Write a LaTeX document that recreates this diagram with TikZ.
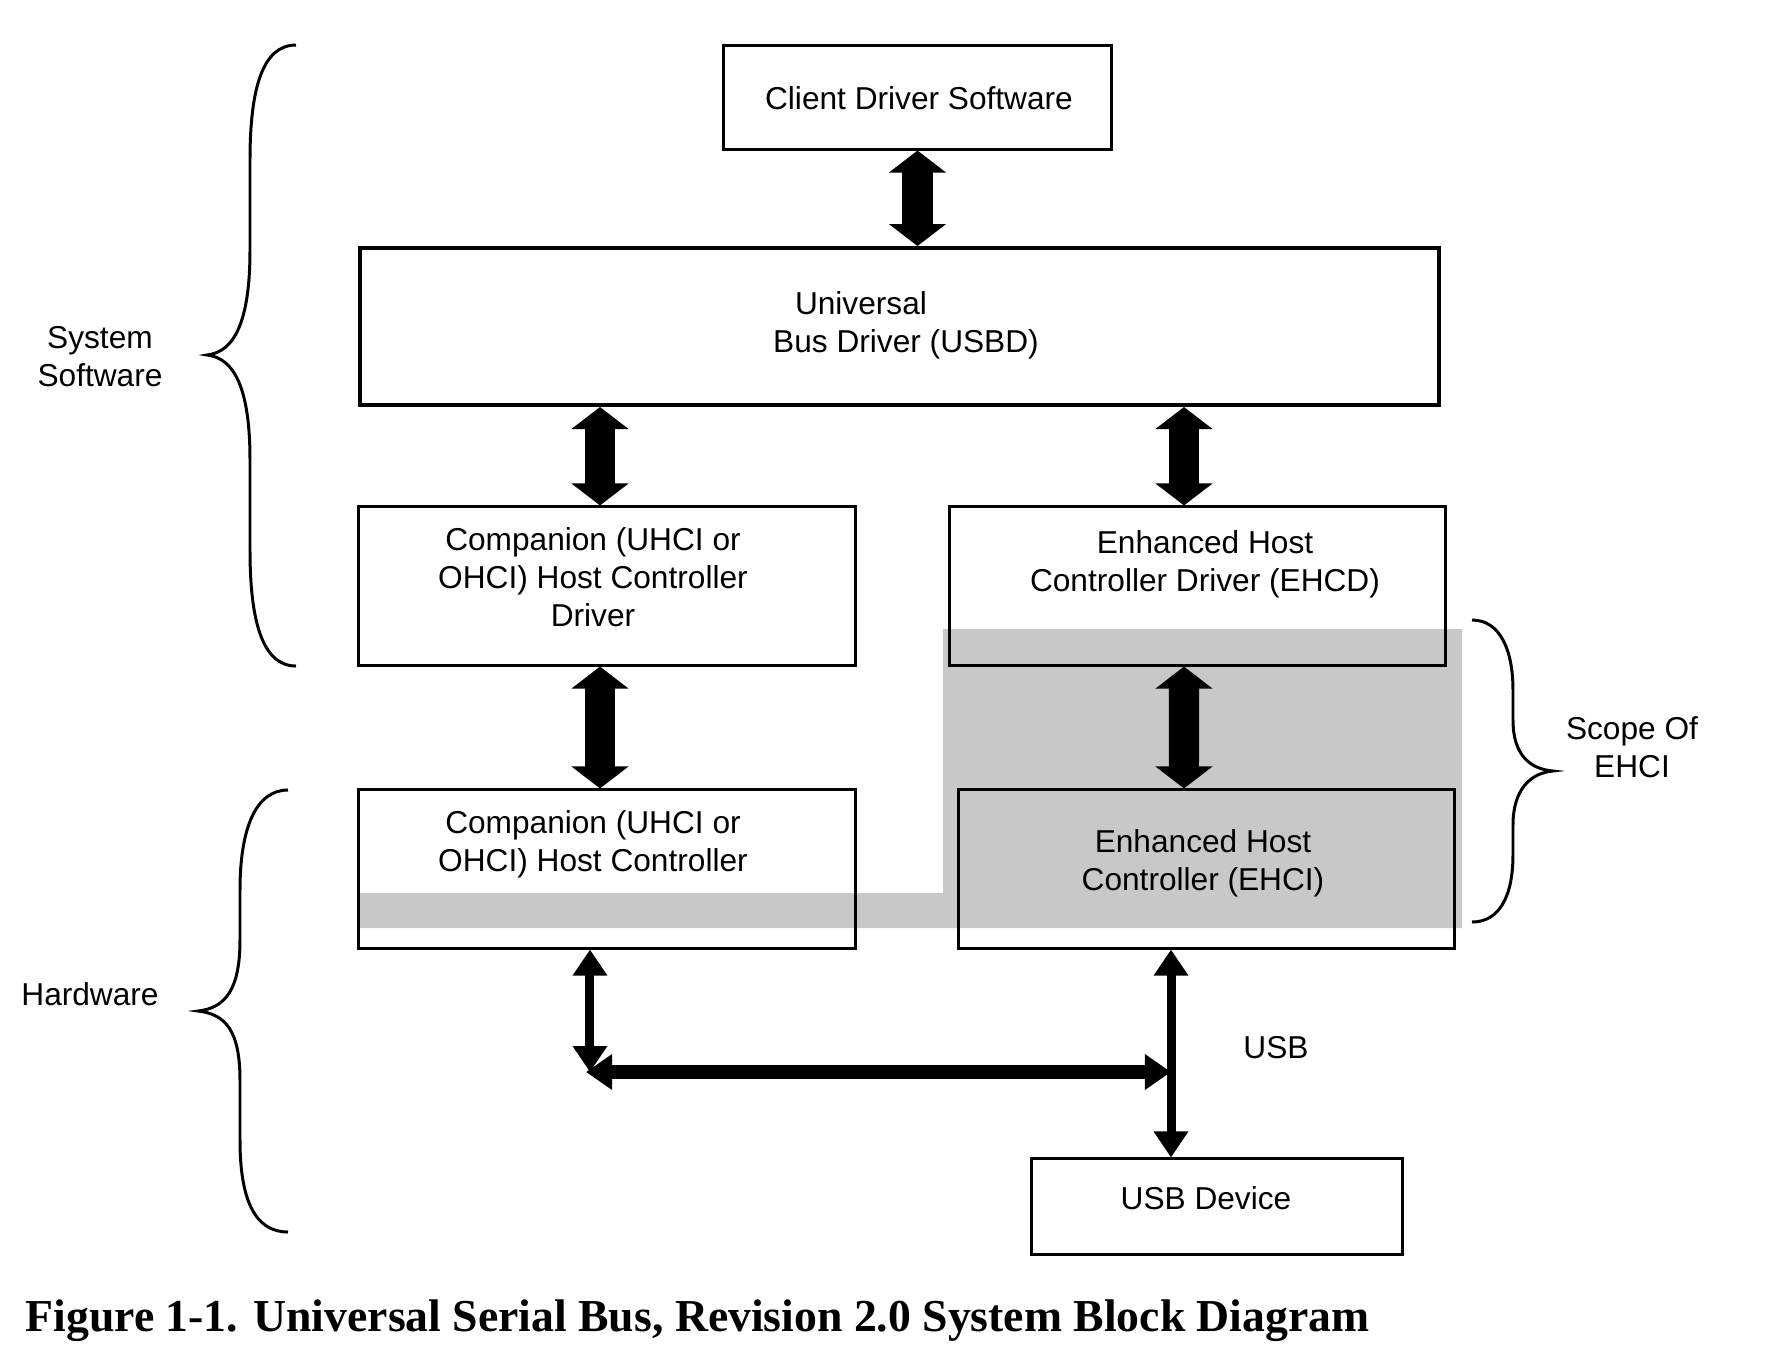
\documentclass[tikz,border=0pt]{standalone}
\usepackage{fontspec}
\setmainfont{Liberation Sans}
\newfontfamily\legende{Liberation Serif}
\usetikzlibrary{arrows.meta}
\definecolor{grisehci}{RGB}{200,200,200}

\begin{document}
\begin{tikzpicture}[x=0.01cm, y=-0.01cm,
    bloc/.style={draw, line width=0.85pt, inner sep=0pt},
    txt/.style={align=center, inner sep=0pt, font=\fontsize{9}{10.8}\selectfont},
    gros/.style={line width=0.3cm, {Triangle[width=0.56cm, length=0.22cm]}-{Triangle[width=0.56cm, length=0.22cm]}},
    fin/.style={line width=0.09cm, {Triangle[width=0.33cm, length=0.26cm]}-{Triangle[width=0.33cm, length=0.26cm]}},
    bus/.style={line width=0.14cm, {Triangle[width=0.34cm, length=0.26cm]}-{Triangle[width=0.34cm, length=0.26cm]}},
    accolade/.style={line width=0.85pt}]
  \useasboundingbox (0,0) rectangle (1771,1356);
  % zone grisee : ce que couvre EHCI
  \fill[grisehci] (360,893) -- (943,893) -- (943,629) -- (1462,629) -- (1462,928) -- (360,928) -- cycle;

  \node[bloc, minimum width=3.87cm, minimum height=1.03cm] (client) at (917.5,97.5) {};
  \node[bloc, line width=1.1pt, minimum width=10.79cm, minimum height=1.57cm] (usbd) at (899.5,326.5) {};
  \node[bloc, minimum width=4.96cm, minimum height=1.58cm] (ochcd) at (607,586) {};
  \node[bloc, minimum width=4.95cm, minimum height=1.58cm] (ehcd) at (1197.5,586) {};
  \node[bloc, minimum width=4.96cm, minimum height=1.58cm] (ochc) at (607,869) {};
  \node[bloc, minimum width=4.95cm, minimum height=1.58cm] (ehc) at (1206.5,869) {};
  \node[bloc, minimum width=3.70cm, minimum height=0.95cm] (usbdev) at (1217,1206.5) {};

  \node[txt] (client-t) at (919,98) {Client Driver Software};
  \node[txt] (usbd-t) at (906,325) {Universal\rule{0.9cm}{0pt}\\Bus Driver (USBD)};
  \node[txt] (ochcd-t) at (593,577) {Companion (UHCI or\\OHCI) Host Controller\\Driver};
  \node[txt] (ehcd-t) at (1205,564) {Enhanced Host\\Controller Driver (EHCD)};
  \node[txt] (ochc-t) at (593,844) {Companion (UHCI or\\OHCI) Host Controller};
  \node[txt] (ehc-t) at (1203,863) {Enhanced Host\\Controller (EHCI)};
  \node[txt] (usbdev-t) at (1206,1198) {USB Device};
  \node[txt] (logiciel) at (100,357) {System\\Software};
  \node[txt] (materiel) at (90,994) {Hardware};
  \node[txt] (portee) at (1632,747) {Scope Of\\EHCI};
  \node[txt] (usb) at (1276,1048) {USB};

  % fleches epaisses entre les couches
  \draw[gros] (client.south) -- (client.south |- usbd.north);
  \draw[gros] ([xshift=-0.07cm]ochcd.north |- usbd.south) -- ([xshift=-0.07cm]ochcd.north);
  \draw[gros] ([xshift=-0.135cm]ehcd.north |- usbd.south) -- ([xshift=-0.135cm]ehcd.north);
  \draw[gros] ([xshift=-0.07cm]ochcd.south) -- ([xshift=-0.07cm]ochcd.south |- ochc.north);
  \draw[gros] ([xshift=-0.135cm]ehcd.south) -- ([xshift=-0.225cm]ehc.north);

  % le bus USB
  \coordinate (busL) at (586,1072); \coordinate (busR) at (1171,1072);
  \draw[fin] ([xshift=-0.17cm]ochc.south) -- ([xshift=-0.17cm]ochc.south |- busL);
  \draw[bus] (busL) -- (busR);
  \draw[fin] (busR |- ehc.south) -- (busR |- usbdev.north);

  % accolades
  \draw[accolade] (296,45) .. controls (262,45) and (250,90) .. (250,160) -- (250,250) .. controls (250,320) and (235,352) .. (207,355)
    .. controls (235,358) and (250,390) .. (250,460) -- (250,550) .. controls (250,620) and (262,666) .. (296,666);
  \draw[accolade] (288,790) .. controls (255,790) and (240,830) .. (240,890) -- (240,940) .. controls (240,990) and (225,1008) .. (198,1011)
    .. controls (225,1014) and (240,1030) .. (240,1080) -- (240,1140) .. controls (240,1200) and (255,1232) .. (288,1232);
  \draw[accolade] (1472,620) .. controls (1500,620) and (1513,650) .. (1513,690) -- (1513,720) .. controls (1513,755) and (1530,769) .. (1553,771)
    .. controls (1530,773) and (1513,790) .. (1513,825) -- (1513,855) .. controls (1513,895) and (1500,922) .. (1472,922);

  \node[anchor=base west, inner sep=0pt, font=\legende\bfseries\fontsize{13}{15}\selectfont] (legende) at (25,1331) {Figure 1-1. Universal Serial Bus, Revision 2.0 System Block Diagram};
\end{tikzpicture}
\end{document}
